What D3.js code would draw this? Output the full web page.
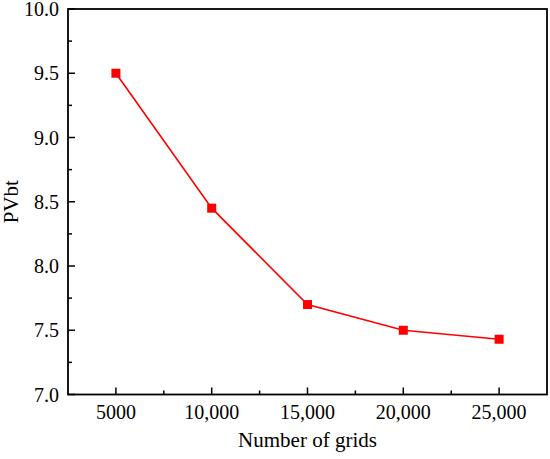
<!DOCTYPE html>
<meta charset="utf-8">
<script src="https://d3js.org/d3.v7.min.js"></script>
<style>
  body { margin: 0; background: #fff; }
</style>
<div id="chart"></div>
<script>
// data
const grids = [5000, 10000, 15000, 20000, 25000];
const pvbt = [9.5, 8.45, 7.7, 7.5, 7.43];
const xTicks = [5000, 10000, 15000, 20000, 25000];
const xTickLabels = ["5000", "10,000", "15,000", "20,000", "25,000"];
const yTicks = [7.0, 7.5, 8.0, 8.5, 9.0, 9.5, 10.0];

const W = 550, H = 459;
const margin = {top: 9, right: 3, bottom: 64.5, left: 68};
const width = W - margin.left - margin.right,
      height = H - margin.top - margin.bottom;
const FONT = "Liberation Serif, Tinos, Times New Roman, DejaVu Serif, serif";

const svg = d3.select("#chart").append("svg")
  .attr("width", W).attr("height", H)
  .attr("font-family", FONT)
  .style("font-family", FONT);
const g = svg.append("g")
  .attr("transform", `translate(${margin.left},${margin.top})`);

const x = d3.scaleLinear().domain([2500, 27500]).range([0, width]);
const y = d3.scaleLinear().domain([7, 10]).range([height, 0]);

// minor ticks
const xMinor = d3.range(7500, 27500, 5000);
const yMinor = d3.range(7.25, 10, 0.5);

g.selectAll(".xminor").data(xMinor).join("line")
  .attr("x1", d => x(d)).attr("x2", d => x(d))
  .attr("y1", height).attr("y2", height - 4)
  .attr("stroke", "#000").attr("stroke-width", 1.5);
g.selectAll(".yminor").data(yMinor).join("line")
  .attr("y1", d => y(d)).attr("y2", d => y(d))
  .attr("x1", 0).attr("x2", 4)
  .attr("stroke", "#000").attr("stroke-width", 1.5);

// major ticks (inward)
g.selectAll(".xmajor").data(xTicks).join("line")
  .attr("x1", d => x(d)).attr("x2", d => x(d))
  .attr("y1", height).attr("y2", height - 7)
  .attr("stroke", "#000").attr("stroke-width", 1.5);
g.selectAll(".ymajor").data(yTicks).join("line")
  .attr("y1", d => y(d)).attr("y2", d => y(d))
  .attr("x1", 0).attr("x2", 7)
  .attr("stroke", "#000").attr("stroke-width", 1.5);

// tick labels
g.selectAll(".xlab").data(xTicks).join("text")
  .attr("x", d => x(d)).attr("y", height + 24.5)
  .attr("text-anchor", "middle").attr("font-size", 20)
  .text((d, i) => xTickLabels[i]);
g.selectAll(".ylab").data(yTicks).join("text")
  .attr("x", -9).attr("y", d => y(d) + 7)
  .attr("text-anchor", "end").attr("font-size", 20)
  .text(d => d.toFixed(1));

// frame
g.append("rect")
  .attr("width", width).attr("height", height)
  .attr("fill", "none").attr("stroke", "#000").attr("stroke-width", 1.8);

// series
const pts = grids.map((d, i) => [d, pvbt[i]]);
g.append("path")
  .datum(pts)
  .attr("fill", "none").attr("stroke", "#ff0000").attr("stroke-width", 1.6)
  .attr("d", d3.line().x(d => x(d[0])).y(d => y(d[1])));
g.selectAll(".pt").data(pts).join("rect")
  .attr("x", d => x(d[0]) - 4.5).attr("y", d => y(d[1]) - 4.5)
  .attr("width", 9).attr("height", 9)
  .attr("fill", "#ff0000");

// axis titles
svg.append("text")
  .attr("x", margin.left + width / 2).attr("y", 447)
  .attr("text-anchor", "middle").attr("font-size", 21)
  .text("Number of grids");
svg.append("text")
  .attr("transform", `translate(18,${margin.top + height / 2}) rotate(-90)`)
  .attr("text-anchor", "middle").attr("font-size", 21)
  .text("PVbt");
</script>
